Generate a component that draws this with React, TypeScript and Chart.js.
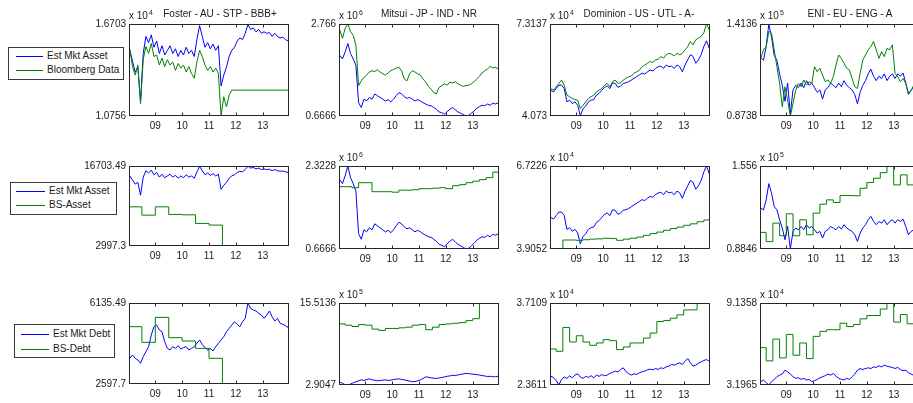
import React, { useEffect, useRef } from 'react';
import Chart from 'chart.js/auto';

const FONT = "'Liberation Sans', Arial, Helvetica, sans-serif";
const TEXT = '#1a1a1a';
const AXIS = '#262626';
const BLUE = '#0000ff';
const GREEN = '#008000';

// x axis (years), ticks every January
const X_MIN = 2008.02;
const X_MAX = 2013.98;
const YEAR_TICKS = [2009, 2010, 2011, 2012, 2013];
const YEAR_LABELS = ['09', '10', '11', '12', '13'];

// sample dates of the market series (every 0.1 year)
const T = [
  2008.05, 2008.15, 2008.25, 2008.35, 2008.45, 2008.55, 2008.65, 2008.75, 2008.85, 2008.95,
  2009.05, 2009.15, 2009.25, 2009.35, 2009.45, 2009.55, 2009.65, 2009.75, 2009.85, 2009.95,
  2010.05, 2010.15, 2010.25, 2010.35, 2010.45, 2010.55, 2010.65, 2010.75, 2010.85, 2010.95,
  2011.05, 2011.15, 2011.25, 2011.35, 2011.45, 2011.55, 2011.65, 2011.75, 2011.85, 2011.95,
  2012.05, 2012.15, 2012.25, 2012.35, 2012.45, 2012.55, 2012.65, 2012.75, 2012.85, 2012.95,
  2013.05, 2013.15, 2013.25, 2013.35, 2013.45, 2013.55, 2013.65, 2013.75, 2013.85, 2013.95,
];
// balance sheet dates
const Q = [
  2008, 2008.25, 2008.5, 2008.75, 2009, 2009.25, 2009.5, 2009.75, 2010, 2010.25, 2010.5, 2010.75,
  2011, 2011.25, 2011.5, 2011.75, 2012, 2012.25, 2012.5, 2012.75, 2013, 2013.25, 2013.5, 2013.75, 2014,
];
const HALF = [2008, 2008.5, 2009, 2009.5, 2010, 2010.5, 2011, 2011.5, 2014];

const TITLES = ['Foster - AU - STP - BBB+', 'Mitsui - JP - IND - NR', 'Dominion - US - UTL - A-', 'ENI - EU - ENG - A'];
const LEGENDS = [
  ['Est Mkt Asset', 'Bloomberg Data'],
  ['Est Mkt Asset', 'BS-Asset'],
  ['Est Mkt Debt', 'BS-Debt'],
];

// Foster (x 10^4, debt in units)
const fosterEstAsset = [
  1.50, 1.43, 1.36, 1.39, 1.17, 1.48, 1.59, 1.55, 1.60, 1.52,
  1.56, 1.48, 1.53, 1.47, 1.50, 1.53, 1.48, 1.51, 1.46, 1.50,
  1.47, 1.52, 1.48, 1.50, 1.46, 1.57, 1.66, 1.59, 1.52, 1.55,
  1.51, 1.54, 1.50, 1.53, 1.27, 1.34, 1.39, 1.46, 1.50, 1.52,
  1.56, 1.58, 1.57, 1.61, 1.668, 1.635, 1.645, 1.62, 1.635, 1.61,
  1.62, 1.61, 1.615, 1.59, 1.61, 1.59, 1.58, 1.585, 1.57, 1.56,
];
const fosterBloomberg = [
  1.51, 1.395, 1.34, 1.405, 1.155, 1.44, 1.525, 1.48, 1.545, 1.46,
  1.47, 1.405, 1.45, 1.395, 1.44, 1.405, 1.425, 1.37, 1.415, 1.385,
  1.405, 1.36, 1.395, 1.35, 1.32, 1.425, 1.50, 1.46, 1.405, 1.37,
  1.395, 1.36, 1.385, 1.35, 1.0756, 1.20, 1.135, 1.21, 1.243, 1.243,
  1.243, 1.243, 1.243, 1.243, 1.243, 1.243, 1.243, 1.243, 1.243, 1.243,
  1.243, 1.243, 1.243, 1.243, 1.243, 1.243, 1.243, 1.243, 1.243, 1.243,
];
const fosterBsAsset = [0.9708, 0.8286, 0.9708, 0.84, 0.834, 0.6864, 0.658, 0.29973, 0.29973];
const fosterEstDebt = [
  3719, 3864, 3719, 3646, 3500, 3791, 4010, 4228, 4738, 5102,
  5175, 4956, 4883, 4447, 4155, 4083, 4228, 4155, 4272, 4126,
  4184, 4228, 4083, 4155, 4228, 4374, 4519, 4330, 4184, 4083,
  4155, 4039, 4228, 4374, 4519, 4665, 4883, 5029, 5175, 5320,
  5204, 5102, 5320, 5466, 6135, 5902, 5830, 5786, 5684, 5611,
  5466, 5611, 5786, 5538, 5349, 5466, 5247, 5204, 5145, 5058,
];
const fosterBsDebt = [5102, 4417, 5509, 4621, 4476, 4155, 3719, 2597.7, 2597.7];

// Mitsui (assets x 10^6, debt x 10^5)
const mitsuiEstAsset = [
  2.05, 1.97, 2.13, 2.32, 2.09, 1.97, 1.82, 0.97, 0.86, 1.05,
  1.01, 1.09, 1.05, 1.17, 1.13, 1.09, 1.05, 1.01, 1.04, 0.99,
  1.05, 1.13, 1.20, 1.17, 1.11, 1.07, 1.09, 1.05, 1.01, 1.04,
  1.01, 0.97, 0.94, 0.91, 0.90, 0.86, 0.82, 0.76, 0.74, 0.71,
  0.77, 0.82, 0.86, 0.81, 0.76, 0.73, 0.70, 0.6666, 0.68, 0.73,
  0.78, 0.84, 0.88, 0.91, 0.90, 0.94, 0.91, 0.96, 0.94, 0.97,
];
const mitsuiBloomberg = [
  2.63, 2.44, 2.67, 2.766, 2.59, 2.51, 2.28, 1.36, 1.47, 1.55,
  1.60, 1.67, 1.70, 1.68, 1.72, 1.67, 1.63, 1.60, 1.65, 1.70,
  1.73, 1.76, 1.78, 1.70, 1.51, 1.47, 1.63, 1.70, 1.67, 1.63,
  1.60, 1.51, 1.44, 1.34, 1.28, 1.20, 1.17, 1.32, 1.36, 1.40,
  1.37, 1.44, 1.42, 1.45, 1.40, 1.37, 1.34, 1.36, 1.37, 1.40,
  1.45, 1.51, 1.57, 1.65, 1.70, 1.74, 1.80, 1.76, 1.78, 1.74,
];
const mitsuiBsAsset = [
  1.91, 1.91, 1.89, 1.99, 1.99, 1.81, 1.81, 1.81, 1.80, 1.84, 1.84, 1.85,
  1.87, 1.87, 1.88, 1.89, 1.87, 1.93, 1.95, 1.99, 2.02, 2.05, 2.09, 2.20, 2.20,
];
const mitsuiEstDebt = [
  3.35, 3.15, 2.95, 2.9047, 3.05, 3.25, 3.40, 3.55, 3.70, 3.60,
  3.75, 3.85, 3.70, 3.65, 3.55, 3.60, 3.65, 3.70, 3.60, 3.65,
  3.75, 3.80, 3.85, 3.75, 3.70, 3.60, 3.50, 3.40, 3.45, 3.55,
  3.70, 3.90, 4.15, 4.10, 4.00, 3.95, 3.90, 4.00, 4.05, 4.15,
  4.25, 4.30, 4.40, 4.35, 4.45, 4.55, 4.60, 4.70, 4.65, 4.60,
  4.55, 4.50, 4.45, 4.35, 4.30, 4.20, 4.25, 4.15, 4.20, 4.25,
];
const mitsuiBsDebt = [
  12.3, 12.1, 11.9, 12.2, 12.1, 11.5, 11.3, 11.6, 11.6, 11.7, 11.8, 12.1,
  12.2, 11.4, 11.8, 12.2, 12.3, 12.4, 12.5, 12.8, 13.1, 15.5136, 15.5136, 15.5136, 15.5136,
];

// Dominion (x 10^4)
const dominionEstAsset = [
  4.98, 4.92, 5.04, 5.16, 5.16, 5.04, 4.57, 4.63, 4.51, 4.57,
  4.45, 4.08, 4.33, 4.42, 4.57, 4.63, 4.65, 4.81, 4.87, 4.98,
  5.08, 5.13, 5.04, 5.24, 5.22, 5.08, 5.13, 5.22, 5.24, 5.28,
  5.34, 5.40, 5.46, 5.52, 5.58, 5.55, 5.63, 5.69, 5.66, 5.75,
  5.81, 5.83, 5.75, 5.87, 5.81, 5.83, 5.75, 5.87, 5.81, 5.63,
  5.87, 6.05, 6.23, 6.17, 5.93, 6.05, 6.23, 6.52, 6.72, 6.46,
];
const dominionBloomberg = [
  5.04, 4.98, 5.10, 5.22, 5.34, 5.16, 4.81, 4.75, 4.69, 4.65,
  4.63, 4.33, 4.45, 4.57, 4.69, 4.75, 4.81, 4.92, 4.98, 5.04,
  5.16, 5.22, 5.10, 5.28, 5.34, 5.22, 5.24, 5.34, 5.40, 5.46,
  5.48, 5.58, 5.63, 5.69, 5.81, 5.87, 5.93, 5.99, 5.96, 6.05,
  6.07, 6.17, 6.11, 6.23, 6.28, 6.25, 6.19, 6.28, 6.23, 6.28,
  6.40, 6.52, 6.70, 6.58, 6.76, 6.82, 6.88, 7.00, 7.3137, 7.11,
];
const dominionBsAsset = [
  3.9052, 3.9052, 4.21, 4.21, 4.20, 4.22, 4.24, 4.25, 4.27, 4.26, 4.20, 4.24,
  4.27, 4.31, 4.37, 4.43, 4.48, 4.54, 4.60, 4.65, 4.71, 4.76, 4.83, 4.89, 4.89,
];
const dominionEstDebt = [
  2.508, 2.481, 2.437, 2.3611, 2.454, 2.492, 2.47, 2.508, 2.481, 2.524,
  2.546, 2.492, 2.47, 2.503, 2.486, 2.514, 2.481, 2.524, 2.503, 2.535,
  2.514, 2.524, 2.552, 2.568, 2.59, 2.579, 2.617, 2.644, 2.579, 2.546,
  2.524, 2.546, 2.535, 2.562, 2.579, 2.59, 2.611, 2.622, 2.611, 2.633,
  2.617, 2.644, 2.633, 2.66, 2.671, 2.699, 2.688, 2.709, 2.726, 2.699,
  2.753, 2.797, 2.726, 2.671, 2.688, 2.72, 2.742, 2.764, 2.78, 2.753,
];
const dominionBsDebt = [
  2.954, 2.916, 3.308, 3.069, 3.172, 3.069, 3.014, 3.053, 3.107, 3.09, 2.944, 2.987,
  3.053, 3.053, 3.134, 3.216, 3.406, 3.422, 3.46, 3.515, 3.597, 3.597, 3.7109, 3.7109, 3.7109,
];

// ENI (assets x 10^5, debt x 10^4)
const eniEstAsset = [
  1.215, 1.201, 1.282, 1.4136, 1.336, 1.228, 1.201, 1.121, 1.054, 0.96,
  1.067, 0.885, 1.027, 1.054, 1.04, 1.067, 1.04, 1.081, 1.054, 1.067,
  1.04, 1.013, 1.027, 0.973, 1.027, 1.04, 1.067, 1.054, 1.04, 1.067,
  1.046, 1.081, 1.054, 1.04, 1.027, 1.0, 0.946, 1.013, 1.054, 1.081,
  1.121, 1.148, 1.107, 1.081, 1.107, 1.094, 1.121, 1.081, 1.107, 1.121,
  1.094, 1.121, 1.107, 1.126, 1.067, 1.0, 1.027, 1.04, 1.05, 1.06,
];
const eniBloomberg = [
  1.212, 1.262, 1.281, 1.37, 1.36, 1.262, 1.163, 1.065, 0.927, 1.045,
  0.966, 0.8738, 0.947, 1.025, 1.065, 1.045, 1.085, 1.055, 1.075, 1.065,
  1.163, 1.134, 1.154, 1.114, 1.075, 1.085, 1.065, 1.104, 1.173, 1.232,
  1.212, 1.183, 1.154, 1.144, 1.094, 1.045, 1.035, 1.124, 1.203, 1.232,
  1.262, 1.281, 1.311, 1.262, 1.212, 1.252, 1.222, 1.271, 1.262, 1.291,
  1.124, 1.104, 1.075, 1.094, 1.065, 1.006, 1.025, 1.055, 1.075, 1.085,
];
const eniBsAsset = [
  1.019, 0.944, 1.094, 0.992, 1.169, 0.992, 1.121, 1.0, 1.175, 1.247, 1.282, 1.261,
  1.317, 1.317, 1.315, 1.376, 1.422, 1.457, 1.502, 1.556, 1.403, 1.484, 1.403, 1.40, 1.40,
];
const eniEstDebt = [
  3.44, 3.56, 3.36, 3.1965, 3.44, 3.60, 3.80, 3.91, 3.99, 4.27,
  4.15, 3.99, 3.80, 3.68, 3.72, 3.60, 3.68, 3.56, 3.60, 3.44,
  3.51, 3.60, 3.72, 3.80, 3.87, 3.99, 3.91, 4.03, 3.84, 3.68,
  3.60, 3.56, 3.68, 3.60, 3.80, 3.99, 4.27, 4.39, 4.32, 4.39,
  4.44, 4.39, 4.51, 4.47, 4.59, 4.51, 4.63, 4.56, 4.51, 4.47,
  4.39, 4.47, 4.32, 4.23, 4.27, 4.08, 3.99, 3.89, 3.85, 3.80,
];
const eniBsDebt = [
  5.90, 4.945, 6.52, 5.16, 6.86, 5.35, 6.24, 5.11, 6.72, 7.08, 7.20, 7.20,
  7.67, 7.43, 7.58, 7.99, 8.23, 8.23, 8.70, 9.1358, 7.75, 8.30, 7.63, 7.63, 7.63,
];

// layout (page pixels)
const COL_X = [129, 339, 550, 760];
const ROW_Y = [24, 166, 303];
const PLOT_W = 160;
const PLOT_H = [
  [92, 92, 92, 92],
  [80, 83, 83, 83],
  [81, 82, 82, 82],
];
const TITLE_CX = [220, 429, 639, 850];
const YW = 45; // room for y tick labels
const PT = 10;
const PR = 2;
const XH = 20;
const TICK = 3;

interface PanelDef {
  row: number;
  col: number;
  yMin: number;
  yMax: number;
  yLabels: [string, string];
  exp?: string;
  est: number[];
  ref: number[];
  refT: number[];
  stepped: boolean;
}

const PANELS: PanelDef[] = [
  { row: 0, col: 0, yMin: 1.0756, yMax: 1.6703, yLabels: ['1.0756', '1.6703'], exp: '4', est: fosterEstAsset, ref: fosterBloomberg, refT: T, stepped: false },
  { row: 0, col: 1, yMin: 0.6666, yMax: 2.766, yLabels: ['0.6666', '2.766'], exp: '6', est: mitsuiEstAsset, ref: mitsuiBloomberg, refT: T, stepped: false },
  { row: 0, col: 2, yMin: 4.073, yMax: 7.3137, yLabels: ['4.073', '7.3137'], exp: '4', est: dominionEstAsset, ref: dominionBloomberg, refT: T, stepped: false },
  { row: 0, col: 3, yMin: 0.8738, yMax: 1.4136, yLabels: ['0.8738', '1.4136'], exp: '5', est: eniEstAsset, ref: eniBloomberg, refT: T, stepped: false },
  { row: 1, col: 0, yMin: 0.29973, yMax: 1.670349, yLabels: ['2997.3', '16703.49'], est: fosterEstAsset, ref: fosterBsAsset, refT: HALF, stepped: true },
  { row: 1, col: 1, yMin: 0.6666, yMax: 2.3228, yLabels: ['0.6666', '2.3228'], exp: '6', est: mitsuiEstAsset, ref: mitsuiBsAsset, refT: Q, stepped: true },
  { row: 1, col: 2, yMin: 3.9052, yMax: 6.7226, yLabels: ['3.9052', '6.7226'], exp: '4', est: dominionEstAsset, ref: dominionBsAsset, refT: Q, stepped: true },
  { row: 1, col: 3, yMin: 0.8846, yMax: 1.556, yLabels: ['0.8846', '1.556'], exp: '5', est: eniEstAsset, ref: eniBsAsset, refT: Q, stepped: true },
  { row: 2, col: 0, yMin: 2597.7, yMax: 6135.49, yLabels: ['2597.7', '6135.49'], est: fosterEstDebt, ref: fosterBsDebt, refT: HALF, stepped: true },
  { row: 2, col: 1, yMin: 2.9047, yMax: 15.5136, yLabels: ['2.9047', '15.5136'], exp: '5', est: mitsuiEstDebt, ref: mitsuiBsDebt, refT: Q, stepped: true },
  { row: 2, col: 2, yMin: 2.3611, yMax: 3.7109, yLabels: ['2.3611', '3.7109'], exp: '4', est: dominionEstDebt, ref: dominionBsDebt, refT: Q, stepped: true },
  { row: 2, col: 3, yMin: 3.1965, yMax: 9.1358, yLabels: ['3.1965', '9.1358'], exp: '4', est: eniEstDebt, ref: eniBsDebt, refT: Q, stepped: true },
];

// legend boxes: outer rect, sample line x-range, text x, row centre y (page pixels)
const LEGEND_BOXES = [
  { l: 8, t: 47, w: 116, h: 33, x0: 16, x1: 43, tx: 47, rows: [56, 70] },
  { l: 10, t: 182, w: 107, h: 33, x0: 16, x1: 45, tx: 49, rows: [191, 205] },
  { l: 14, t: 324, w: 101, h: 34, x0: 21, x1: 49, tx: 53, rows: [334, 349] },
];

// matlab style box with inward ticks
const boxPlugin = {
  id: 'matlabBox',
  afterDatasetsDraw(chart: any) {
    const { ctx, chartArea: a, scales } = chart;
    const l = Math.round(a.left) + 0.5;
    const r = Math.round(a.right) - 0.5;
    const t = Math.round(a.top) + 0.5;
    const b = Math.round(a.bottom) - 0.5;
    ctx.save();
    ctx.strokeStyle = AXIS;
    ctx.lineWidth = 1;
    ctx.strokeRect(l, t, r - l, b - t);
    ctx.beginPath();
    for (const v of YEAR_TICKS) {
      const x = Math.round(scales.x.getPixelForValue(v)) + 0.5;
      ctx.moveTo(x, b);
      ctx.lineTo(x, b - TICK);
      ctx.moveTo(x, t);
      ctx.lineTo(x, t + TICK);
    }
    ctx.stroke();
    ctx.restore();
  },
};

const Panel: React.FC<{ def: PanelDef }> = ({ def }) => {
  const canvasRef = useRef<HTMLCanvasElement>(null);
  const h = PLOT_H[def.row][def.col];

  useEffect(() => {
    if (!canvasRef.current) return;
    const tickFont = { family: FONT, size: 10 };
    const chart = new Chart(canvasRef.current, {
      type: 'line',
      data: {
        datasets: [
          {
            data: def.refT.map((t, i) => ({ x: t, y: def.ref[i] })),
            borderColor: GREEN,
            borderWidth: 1,
            pointRadius: 0,
            stepped: def.stepped,
            tension: 0,
          },
          {
            data: T.map((t, i) => ({ x: t, y: def.est[i] })),
            borderColor: BLUE,
            borderWidth: 1,
            pointRadius: 0,
            tension: 0,
          },
        ],
      },
      options: {
        animation: false,
        responsive: false,
        events: [],
        layout: { padding: { top: PT, right: PR, left: 0, bottom: 0 } },
        plugins: { legend: { display: false }, tooltip: { enabled: false } },
        scales: {
          x: {
            type: 'linear',
            min: X_MIN,
            max: X_MAX,
            grid: { display: false, drawTicks: false },
            border: { display: false },
            afterBuildTicks: (axis: any) => {
              axis.ticks = YEAR_TICKS.map((value) => ({ value }));
            },
            afterFit: (axis: any) => {
              axis.height = XH;
            },
            ticks: {
              autoSkip: false,
              maxRotation: 0,
              padding: 4,
              color: TEXT,
              font: tickFont,
              callback: (_v: any, i: number) => YEAR_LABELS[i],
            },
          },
          y: {
            type: 'linear',
            min: def.yMin,
            max: def.yMax,
            grid: { display: false, drawTicks: false },
            border: { display: false },
            afterBuildTicks: (axis: any) => {
              axis.ticks = [{ value: def.yMin }, { value: def.yMax }];
            },
            afterFit: (axis: any) => {
              axis.width = YW;
            },
            ticks: {
              autoSkip: false,
              padding: 3,
              color: TEXT,
              font: tickFont,
              callback: (_v: any, i: number) => def.yLabels[i],
            },
          },
        },
      },
      plugins: [boxPlugin],
    } as any);
    return () => chart.destroy();
  }, [def]);

  const w = YW + PLOT_W + PR;
  const ht = PT + h + XH;
  return (
    <canvas
      ref={canvasRef}
      width={w}
      height={ht}
      style={{ position: 'absolute', left: COL_X[def.col] - YW, top: ROW_Y[def.row] - PT, width: w, height: ht }}
    />
  );
};

const App: React.FC = () => {
  return (
    <div
      style={{
        position: 'absolute',
        left: 0,
        top: 0,
        width: 913,
        height: 403,
        overflow: 'hidden',
        background: '#fff',
        fontFamily: FONT,
        fontSize: 10,
        color: TEXT,
      }}
    >
      {PANELS.map((p, i) => (
        <Panel key={i} def={p} />
      ))}

      {TITLES.map((t, i) => (
        <div
          key={t}
          style={{ position: 'absolute', left: TITLE_CX[i] - 100, top: 8, width: 200, textAlign: 'center', lineHeight: '12px', whiteSpace: 'nowrap' }}
        >
          {t}
        </div>
      ))}

      {PANELS.filter((p) => p.exp).map((p, i) => (
        <div
          key={'e' + i}
          style={{ position: 'absolute', left: COL_X[p.col], top: ROW_Y[p.row] - 14, lineHeight: '12px', whiteSpace: 'nowrap' }}
        >
          x 10
          <span style={{ fontSize: 7, position: 'relative', top: -4, marginLeft: 1 }}>{p.exp}</span>
        </div>
      ))}

      {LEGEND_BOXES.map((b, r) => (
        <div
          key={'l' + r}
          style={{
            position: 'absolute',
            left: b.l,
            top: b.t,
            width: b.w,
            height: b.h,
            boxSizing: 'border-box',
            border: '1px solid #3a3a3a',
            background: '#fff',
          }}
        >
          {LEGENDS[r].map((label, k) => (
            <React.Fragment key={label}>
              <div
                style={{
                  position: 'absolute',
                  left: b.x0 - b.l - 1,
                  top: b.rows[k] - b.t - 1,
                  width: b.x1 - b.x0,
                  height: 1,
                  background: k === 0 ? BLUE : GREEN,
                }}
              />
              <div
                style={{
                  position: 'absolute',
                  left: b.tx - b.l - 1,
                  top: b.rows[k] - b.t - 7,
                  lineHeight: '12px',
                  whiteSpace: 'nowrap',
                }}
              >
                {label}
              </div>
            </React.Fragment>
          ))}
        </div>
      ))}
    </div>
  );
};

export default App;
